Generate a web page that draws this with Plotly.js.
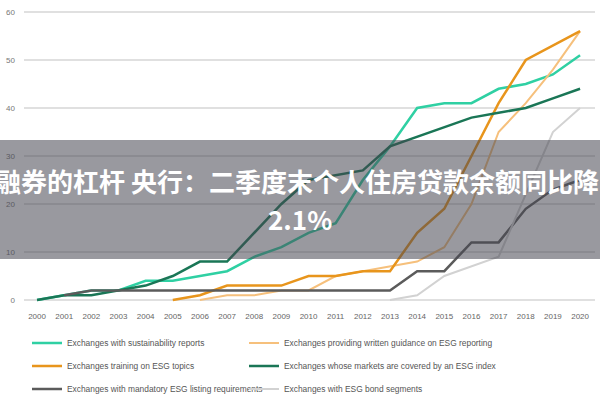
<!DOCTYPE html>
<html>
<head>
<meta charset="utf-8">
<script src="https://cdn.plot.ly/plotly-3.0.1.min.js"></script>
<style>html,body{margin:0;padding:0;background:#fff;}#chart{width:600px;height:400px;}</style>
</head>
<body>
<div id="chart"></div>
<script>
var years = [2000,2001,2002,2003,2004,2005,2006,2007,2008,2009,2010,2011,2012,2013,2014,2015,2016,2017,2018,2019,2020];

var sustainabilityReports = [0,1,2,2,4,4,5,6,9,11,14,16,25,32,40,41,41,44,45,47,51];
var writtenGuidance      = [null,null,null,null,null,null,0,1,1,2,2,5,6,7,8,11,20,35,41,48,56];
var trainingEsg          = [null,null,null,null,null,0,1,3,3,3,5,5,6,6,14,19,30,41,50,53,56];
var esgIndex             = [0,1,1,2,3,5,8,8,14,20,25,26,27,32,34,36,38,39,40,42,44];
var mandatoryListing     = [null,1,2,2,2,2,2,2,2,2,2,2,2,2,6,6,12,12,19,23,25];
var bondSegments         = [null,null,null,null,null,null,null,null,null,null,null,null,null,0,1,5,7,9,22,35,40];

var seriesNames = [
  "Exchanges with sustainability reports",
  "Exchanges providing written guidance on ESG reporting",
  "Exchanges training on ESG topics",
  "Exchanges whose markets are covered by an ESG index",
  "Exchanges with mandatory ESG listing requirements",
  "Exchanges with ESG bond segments"
];
var yTicks = [0,10,20,30,40,50,60];
var overlayLine1 = "融券的杠杆 央行：二季度末个人住房贷款余额同比降";
var overlayLine2 = "2.1%";

var seriesData = [sustainabilityReports, writtenGuidance, trainingEsg, esgIndex, mandatoryListing, bondSegments];
var colors = ["#2fd0a3", "#f6c07c", "#e8951c", "#1a7656", "#5b5b5b", "#d2d2d2"];
var widths = [2.5, 2, 2.5, 2.5, 2.5, 2];
var legendIds = ["legend", "legend2", "legend3", "legend4", "legend5", "legend6"];

var traces = seriesData.map(function (d, i) {
  return {
    x: years, y: d, name: seriesNames[i], type: "scatter", mode: "lines",
    line: {color: colors[i], width: widths[i]}, legend: legendIds[i],
    connectgaps: false, hoverinfo: "skip"
  };
});

// plot area in pixels
var L = 24, R = 5, T = 7, B = 95, W = 600, H = 400;
var PW = W - L - R, PH = H - T - B;
function px2paperX(p) { return (p - L) / PW; }
function px2paperY(p) { return (H - B - p) / PH; }

function legendCfg(xPix, yPix) {
  return {
    orientation: "v", xref: "container", yref: "container",
    x: xPix / W, y: 1 - yPix / H, xanchor: "left", yanchor: "middle",
    font: {family: "Liberation Sans Narrow, Arial Narrow, sans-serif", size: 8.4, color: "#555"},
    bgcolor: "rgba(0,0,0,0)", itemwidth: 30
  };
}

var legendPos = [[27, 343], [244, 343], [27, 366], [244, 366], [27, 389], [244, 389]];

var layout = {
  width: W, height: H,
  margin: {l: L, r: R, t: T, b: B, autoexpand: false},
  paper_bgcolor: "#fff", plot_bgcolor: "#fff",
  font: {family: "Liberation Sans, Arial, sans-serif", color: "#666", size: 8},
  xaxis: {
    range: [1999.52, 2020.55], tickmode: "array", tickvals: years,
    ticktext: years.map(String), showgrid: false, zeroline: false, showline: false,
    ticks: "", ticklabelstandoff: 5, tickfont: {size: 8, color: "#666"}, automargin: false
  },
  yaxis: {
    range: [-1.0417, 61.0417], tickmode: "array", tickvals: yTicks,
    showgrid: true, gridcolor: "#e0e0e0", gridwidth: 1.5, zeroline: false, showline: false,
    ticks: "", ticklabelstandoff: 8, tickfont: {size: 8, color: "#777"}, automargin: false
  },
  showlegend: true,
  shapes: [{
    type: "rect", xref: "paper", yref: "paper",
    x0: -0.1, x1: 1.1, y0: px2paperY(259), y1: px2paperY(140),
    fillcolor: "rgba(70,70,80,0.55)", line: {width: 0}, layer: "above"
  }],
  annotations: [
    {text: overlayLine1, xref: "paper", yref: "paper", x: px2paperX(297), y: px2paperY(180),
     xanchor: "center", yanchor: "middle", showarrow: false,
     font: {family: "Noto Sans CJK SC", size: 26, color: "#fff", weight: "bold"}},
    {text: overlayLine2, xref: "paper", yref: "paper", x: px2paperX(300), y: px2paperY(218),
     xanchor: "center", yanchor: "middle", showarrow: false,
     font: {family: "Noto Sans CJK SC", size: 26, color: "#fff", weight: "bold"}}
  ]
};
legendIds.forEach(function (id, i) { layout[id] = legendCfg(legendPos[i][0], legendPos[i][1]); });

Plotly.newPlot("chart", traces, layout, {displayModeBar: false, staticPlot: true});
</script>
</body>
</html>
